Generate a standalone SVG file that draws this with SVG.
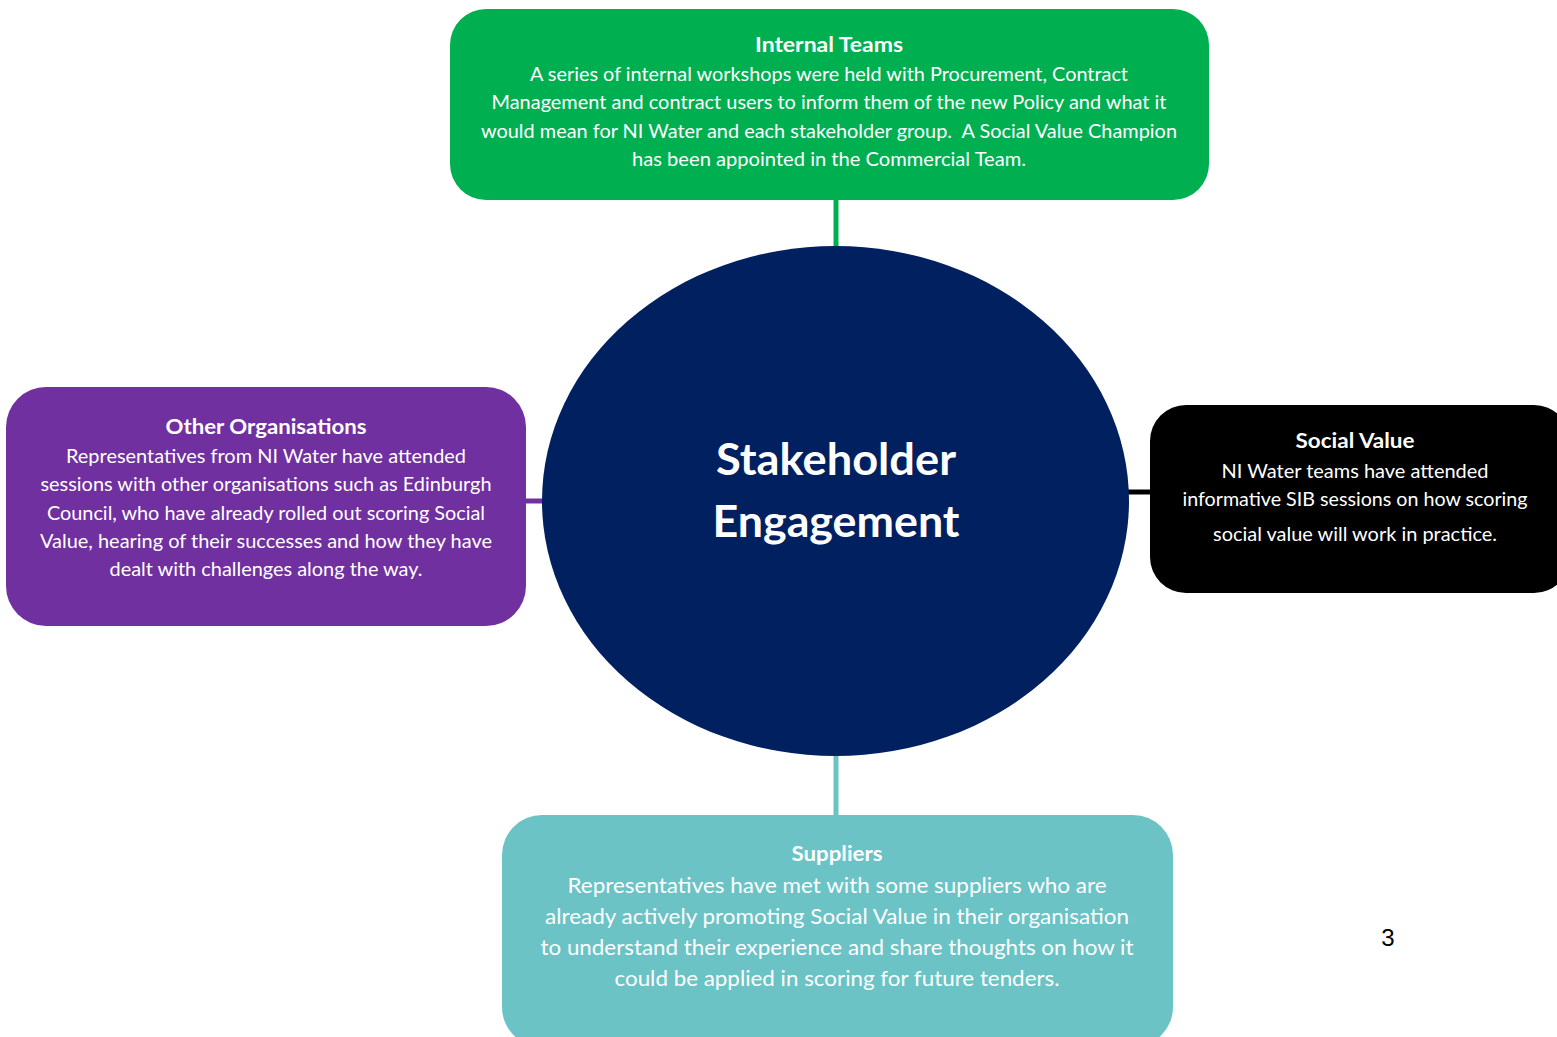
<svg xmlns="http://www.w3.org/2000/svg" width="1557" height="1037" viewBox="0 0 1557 1037">
  <style>
    text { font-family: Lato, "Open Sans", "Liberation Sans", sans-serif; fill: #ffffff; text-anchor: middle; }
    .title { font-weight: bold; font-size: 20px; }
    .body { font-size: 19px; }
    .body-l { font-size: 21px; }
    .hub { font-weight: bold; font-size: 44px; }
    .page { fill: #000000; font-size: 24px; font-family: "Liberation Sans", sans-serif; }
    .link { stroke-width: 5; fill: none; }
  </style>

  <!-- connectors from the hub to each group -->
  <g id="connectors">
    <line class="link" x1="836" y1="198" x2="836" y2="250" stroke="#00B050"/>
    <line class="link" x1="524" y1="501" x2="545" y2="501" stroke="#7030A0"/>
    <line class="link" x1="1126" y1="492" x2="1152" y2="492" stroke="#000000"/>
    <line class="link" x1="836" y1="752" x2="836" y2="817" stroke="#6BC3C6"/>
  </g>

  <!-- central hub -->
  <g id="hub">
    <ellipse cx="835.5" cy="501" rx="293.5" ry="255" fill="#002060"/>
    <text class="hub" x="836" y="475" textLength="240" lengthAdjust="spacingAndGlyphs">Stakeholder</text>
    <text class="hub" x="836" y="537" textLength="247" lengthAdjust="spacingAndGlyphs">Engagement</text>
  </g>

  <!-- internal teams -->
  <g id="internal-teams">
    <rect x="450" y="9" width="759" height="191" rx="36" fill="#00B050"/>
    <text class="title" x="829" y="52" textLength="148" lengthAdjust="spacingAndGlyphs">Internal Teams</text>
    <text class="body" x="829" y="81" textLength="598" lengthAdjust="spacingAndGlyphs">A series of internal workshops were held with Procurement, Contract</text>
    <text class="body" x="829" y="109" textLength="675" lengthAdjust="spacingAndGlyphs">Management and contract users to inform them of the new Policy and what it</text>
    <text class="body" x="829" y="138" textLength="696" lengthAdjust="spacingAndGlyphs" xml:space="preserve">would mean for NI Water and each stakeholder group.  A Social Value Champion</text>
    <text class="body" x="829" y="166" textLength="394" lengthAdjust="spacingAndGlyphs">has been appointed in the Commercial Team.</text>
  </g>

  <!-- other organisations -->
  <g id="other-organisations">
    <rect x="6" y="387" width="520" height="239" rx="40" fill="#7030A0"/>
    <text class="title" x="266" y="434" textLength="201" lengthAdjust="spacingAndGlyphs">Other Organisations</text>
    <text class="body" x="266" y="463" textLength="400" lengthAdjust="spacingAndGlyphs">Representatives from NI Water have attended</text>
    <text class="body" x="266" y="491" textLength="451" lengthAdjust="spacingAndGlyphs">sessions with other organisations such as Edinburgh</text>
    <text class="body" x="266" y="520" textLength="438" lengthAdjust="spacingAndGlyphs">Council, who have already rolled out scoring Social</text>
    <text class="body" x="266" y="548" textLength="452" lengthAdjust="spacingAndGlyphs">Value, hearing of their successes and how they have</text>
    <text class="body" x="266" y="576" textLength="313" lengthAdjust="spacingAndGlyphs">dealt with challenges along the way.</text>
  </g>

  <!-- social value -->
  <g id="social-value">
    <rect x="1150" y="405" width="420" height="188" rx="36" fill="#000000"/>
    <text class="title" x="1355" y="448" textLength="119" lengthAdjust="spacingAndGlyphs">Social Value</text>
    <text class="body" x="1355" y="478" textLength="267" lengthAdjust="spacingAndGlyphs">NI Water teams have attended</text>
    <text class="body" x="1355" y="506" textLength="345" lengthAdjust="spacingAndGlyphs">informative SIB sessions on how scoring</text>
    <text class="body" x="1355" y="541" textLength="284" lengthAdjust="spacingAndGlyphs">social value will work in practice.</text>
  </g>

  <!-- suppliers -->
  <g id="suppliers">
    <rect x="502" y="815" width="671" height="232" rx="40" fill="#6BC3C6"/>
    <text class="title" x="837" y="861" textLength="91" lengthAdjust="spacingAndGlyphs">Suppliers</text>
    <text class="body-l" x="837" y="893" textLength="539" lengthAdjust="spacingAndGlyphs">Representatives have met with some suppliers who are</text>
    <text class="body-l" x="837" y="924" textLength="584" lengthAdjust="spacingAndGlyphs">already actively promoting Social Value in their organisation</text>
    <text class="body-l" x="837" y="955" textLength="593" lengthAdjust="spacingAndGlyphs">to understand their experience and share thoughts on how it</text>
    <text class="body-l" x="837" y="986" textLength="445" lengthAdjust="spacingAndGlyphs">could be applied in scoring for future tenders.</text>
  </g>

  <!-- page number -->
  <text class="page" x="1388" y="946">3</text>
</svg>
